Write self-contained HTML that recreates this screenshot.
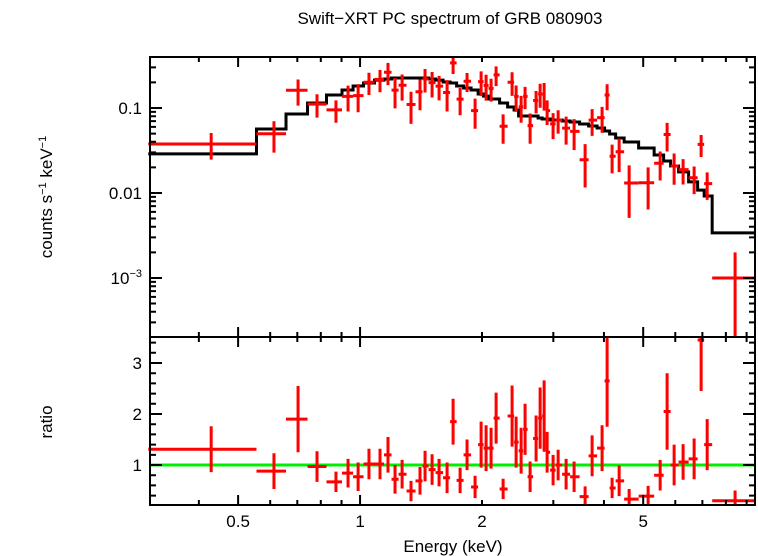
<!DOCTYPE html>
<html><head><meta charset="utf-8"><style>
html,body{margin:0;padding:0;background:#fff}
svg{display:block}
text{font-family:"Liberation Sans",sans-serif;fill:#000}
</style></head><body>
<svg id="c" width="758" height="556" xmlns="http://www.w3.org/2000/svg">
<text x="450" y="24" font-size="17" text-anchor="middle">Swift−XRT PC spectrum of GRB 080903</text>
<text transform="translate(52,197) rotate(-90)" font-size="17" text-anchor="middle">counts s<tspan font-size="11" dy="-6">−1</tspan><tspan dy="6"> keV</tspan><tspan font-size="11" dy="-6">−1</tspan></text>
<text transform="translate(52,422) rotate(-90)" font-size="17" text-anchor="middle">ratio</text>
<text x="453" y="552" font-size="17" text-anchor="middle">Energy (keV)</text>
<g id="g"></g>
</svg>
<script>
const energy=[0.429,0.613,0.703,0.783,0.872,0.934,0.989,1.052,1.120,1.172,1.220,1.270,1.336,1.406,1.447,1.506,1.567,1.640,1.697,1.766,1.837,1.923,1.990,2.047,2.106,2.167,2.255,2.373,2.428,2.498,2.555,2.629,2.720,2.783,2.847,2.896,2.996,3.083,3.226,3.376,3.594,3.740,3.958,4.073,4.190,4.361,4.616,5.142,5.506,5.728,5.961,6.273,6.679,6.950,7.193,8.43];
const flux=[0.0377,0.0498,0.1615,0.111,0.095,0.137,0.140,0.201,0.217,0.263,0.162,0.185,0.110,0.155,0.22,0.199,0.181,0.152,0.34,0.127,0.206,0.093,0.204,0.184,0.170,0.245,0.061,0.201,0.137,0.103,0.137,0.062,0.1225,0.1465,0.145,0.093,0.065,0.072,0.058,0.053,0.0246,0.072,0.077,0.142,0.027,0.0306,0.0131,0.0132,0.0224,0.0488,0.0208,0.0188,0.0151,0.0373,0.0129,0.001];
const fluxErr=[0.013,0.020,0.055,0.034,0.028,0.046,0.051,0.059,0.064,0.077,0.063,0.063,0.045,0.061,0.068,0.066,0.058,0.061,0.089,0.045,0.052,0.036,0.066,0.062,0.051,0.064,0.023,0.062,0.047,0.036,0.040,0.024,0.036,0.046,0.052,0.030,0.022,0.022,0.021,0.021,0.013,0.025,0.026,0.048,0.010,0.013,0.008,0.0068,0.0084,0.018,0.0083,0.0062,0.0054,0.0108,0.0046,0.001];
const model=[0.0288,0.0566,0.085,0.1146,0.142,0.163,0.1815,0.197,0.213,0.219,0.225,0.225,0.225,0.225,0.225,0.219,0.213,0.202,0.197,0.1815,0.172,0.163,0.146,0.138,0.1276,0.1276,0.1146,0.1027,0.0947,0.0806,0.0806,0.0806,0.0806,0.0763,0.0742,0.0742,0.0723,0.0723,0.0703,0.0685,0.0648,0.0614,0.0582,0.0536,0.0494,0.0444,0.0398,0.0338,0.028,0.0238,0.0208,0.0177,0.0135,0.0108,0.0092,0.00339];
const ratio=[1.31,0.88,1.9,0.97,0.67,0.84,0.77,1.02,1.02,1.2,0.72,0.82,0.49,0.69,0.98,0.91,0.85,0.75,1.85,0.7,1.2,0.57,1.4,1.33,1.33,1.92,0.53,1.96,1.45,1.28,1.7,0.77,1.52,1.92,1.96,1.25,0.9,1.0,0.82,0.77,0.38,1.18,1.33,2.65,0.55,0.69,0.33,0.39,0.8,2.05,1.0,1.06,1.12,3.45,1.4,0.3];
const ratioErr=[0.45,0.35,0.65,0.3,0.2,0.28,0.28,0.3,0.3,0.35,0.28,0.28,0.2,0.27,0.3,0.3,0.27,0.3,0.45,0.25,0.3,0.22,0.45,0.45,0.4,0.5,0.2,0.6,0.5,0.45,0.5,0.3,0.45,0.6,0.7,0.4,0.3,0.3,0.3,0.3,0.2,0.4,0.45,0.9,0.2,0.3,0.2,0.2,0.3,0.75,0.4,0.35,0.4,1.0,0.5,0.2];
const firstLo=0.30, secondLo=0.555, lastLo=7.4, lastHi=9.45;
const xTicks=[0.5,1,2,5];
const yTopTicks=[0.1,0.01,0.001];
const yBotTicks=[1,2,3];

const L=150,R=755,T1=57,B1=337,B2=505;
const xMin=0.303,xMax=9.44;
const X=e=>L+(R-L)*Math.log10(e/xMin)/Math.log10(xMax/xMin);
const yTopMin=2.02e-4,yTopMax=0.398;
const Y1=v=>B1-(B1-T1)*Math.log10(v/yTopMin)/Math.log10(yTopMax/yTopMin);
const rMin=0.216,rMax=3.51;
const Y2=v=>B2-(B2-B1)*(v-rMin)/(rMax-rMin);
const NS="http://www.w3.org/2000/svg";
const g=document.getElementById('g');
function mk(t,a){const e=document.createElementNS(NS,t);for(const k in a)e.setAttribute(k,a[k]);g.appendChild(e);return e;}
const clamp=(v,a,b)=>Math.max(a,Math.min(b,v));
const n=energy.length,lo=[],hi=[];
for(let i=0;i<n;i++){
  lo.push(i===0?firstLo:(i===1?secondLo:(i===n-1?lastLo:Math.sqrt(energy[i-1]*energy[i]))));
}
for(let i=0;i<n;i++){hi.push(i===n-1?lastHi:lo[i+1]);}
const gl=mk('line',{x1:L,x2:R,y1:Y2(1),y2:Y2(1),stroke:'#00ee00','stroke-width':3});


let d='';
for(let i=0;i<n;i++){const y=Y1(model[i]);d+=(i===0?'M':'L')+X(lo[i])+','+y+'L'+X(hi[i])+','+y;}
const mp=mk('path',{d:d,fill:'none',stroke:'#000','stroke-width':3});


for(let i=0;i<n;i++){
  const x=X(energy[i]),x0=X(lo[i]),x1=clamp(X(hi[i]),L,R);
  const y=Y1(flux[i]);
  const yl=flux[i]-fluxErr[i]>0?Y1(flux[i]-fluxErr[i]):B1;
  const yh=Y1(flux[i]+fluxErr[i]);
  const p=mk('path',{d:`M${x0},${y}H${x1}M${x},${clamp(yh,T1,B1)}V${clamp(yl,T1,B1)}`,stroke:'#f00','stroke-width':3,fill:'none'});
  
  
  const r=Y2(ratio[i]);
  const q=mk('path',{d:`M${x0},${r}H${x1}M${x},${clamp(Y2(ratio[i]+ratioErr[i]),B1,B2)}V${clamp(Y2(ratio[i]-ratioErr[i]),B1,B2)}`,stroke:'#f00','stroke-width':3,fill:'none'});
  
  
}
const f1=mk('rect',{x:L,y:T1,width:R-L,height:B1-T1,fill:'none',stroke:'#000','stroke-width':2});


const f2=mk('rect',{x:L,y:B1,width:R-L,height:B2-B1,fill:'none',stroke:'#000','stroke-width':2});


let tk='';
for(let dec=0.1;dec<=10;dec*=10){for(let m=1;m<10;m++){const e=m*dec;if(e<xMin||e>xMax)continue;const x=X(e);const big=(m===1||m===5);const s=big?10:5;
 tk+=`M${x},${T1}v${s}M${x},${B1}v${-s}M${x},${B1}v${s}M${x},${B2}v${-s}`;}}
for(let p=-4;p<=0;p++){for(let m=1;m<10;m++){const v=m*Math.pow(10,p);if(v<yTopMin||v>yTopMax)continue;const y=Y1(v);const s=m===1?12:6;tk+=`M${L},${y}h${s}M${R},${y}h${-s}`;}}
for(let k=1;k<=17;k++){const v=k*0.2;if(v<rMin||v>rMax)continue;const y=Y2(v);const s=(k%5===0)?12:6;tk+=`M${L},${y}h${s}M${R},${y}h${-s}`;}
const tp=mk('path',{d:tk,stroke:'#000','stroke-width':2,fill:'none'});


xTicks.forEach(v=>{const t=mk('text',{x:X(v),y:527,'font-size':17,'text-anchor':'middle'});t.textContent=String(v);
 
 });
yTopTicks.forEach(v=>{const t=mk('text',{x:142,y:Y1(v)+6,'font-size':17,'text-anchor':'end'});
 if(v<0.005){t.innerHTML='10<tspan font-size="11" dy="-7">−3</tspan>';}else t.textContent=String(v);
 
 });
yBotTicks.forEach(v=>{const t=mk('text',{x:142,y:Y2(v)+6,'font-size':17,'text-anchor':'end'});t.textContent=String(v);
 
 });
</script>
</body></html>
